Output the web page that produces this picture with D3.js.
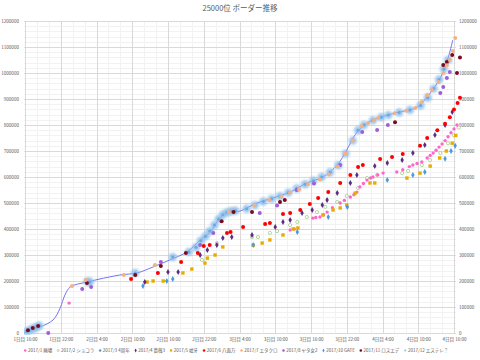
<!DOCTYPE html>
<html><head><meta charset="utf-8">
<script src="https://cdn.jsdelivr.net/npm/d3@7"></script>
<style>body{margin:0;background:#fff}svg{display:block}text{font-family:"Noto Sans CJK JP","Noto Sans",sans-serif}</style>
</head><body><svg id="c" width="480" height="360"></svg>
<script>
const title = "25000位 ボーダー推移";
const xTickHours = [0,6,12,18,24,30,36,42,48,54,60,66,72];
const xTickLabels = ["1日目 16:00","1日目 22:00","2日目 4:00","2日目 10:00","2日目 16:00","2日目 22:00","3日目 4:00","3日目 10:00","3日目 16:00","3日目 22:00","4日目 4:00","4日目 10:00","4日目 16:00"];
const yTicks = [0,100000,200000,300000,400000,500000,600000,700000,800000,900000,1000000,1100000,1200000];
const seriesNames = ["2017/1 廃墟","2017/2 ショコラ","2017/3 4周年","2017/4 薔薇3","2017/5 嘘牙","2017/6 八面万","2017/7 エタクロ","2017/8 ヤタ女2","2017/10 GATE","2017/11 ロスエデ","2017/12 エステレ？"];
const seriesColors = ["#FF66CC","#A9D18E","#5B9BD5","#5B2C83","#E6AC00","#FF0000","#F4B183","#9E5FD8","#4A9BE0","#7A0A1E","#9DC3E6"];

// [hour since 1日目 16:00, points]
const haikyo = [[7.4,115000],[44.5,396000],[45.2,400000],[48.3,442000],[48.8,444000],[49.5,446000],[50.1,455000],[50.7,465000],[51.6,482000],[52.9,500000],[53.6,510000],[54.6,523000],[55.2,532000],[55.7,542000],[56.2,562000],[56.8,575000],[57.4,588000],[58.0,596000],[58.4,600000],[59.2,608000],[60.1,615000],[62.4,619000],[63.4,628000],[64.5,640000],[65.1,646000],[65.8,652000],[66.6,658000],[67.5,673000],[68.0,683000],[68.5,692000],[69.0,703000],[69.5,715000],[70.0,727000],[70.5,740000],[71.0,755000],[71.5,770000],[72.0,785000],[72.5,800000]];
const chocolat = [[29.7,281000],[32.2,346000],[38.1,369000],[39.1,369000],[41.1,385000],[42.3,392000],[44.5,415000],[45.7,427000],[47.3,446000],[49.0,465000],[50.4,485000],[52.4,504000],[54.0,527000],[55.9,558000],[57.4,596000],[59.1,608000],[63.3,615000],[64.3,623000],[66.6,646000],[68.0,665000],[69.7,692000],[71.0,730000],[72.0,760000],[72.8,790000]];
const anniv4 = [[-1.0,0],[0.3,6000],[0.9,12000],[1.4,17000],[1.9,22000],[2.4,28000],[10.5,198000],[10.9,196000],[18.5,231000],[24.8,292000],[27.5,312000],[28.7,330000],[29.5,355000],[30.3,372000],[31.0,392000],[31.8,415000],[32.5,438000],[33.2,455000],[33.9,464000],[34.6,468000],[35.3,470000],[37.2,478000],[38.6,492000],[40.0,506000],[41.4,516000],[42.8,526000],[44.2,540000],[45.6,556000],[47.0,572000],[48.4,586000],[49.8,600000],[51.2,618000],[52.6,645000],[53.8,690000],[55.0,740000],[55.9,780000],[56.9,800000],[58.4,818000],[59.8,830000],[61.0,838000],[62.8,848000],[64.6,858000],[66.4,875000],[67.6,905000],[68.6,940000],[69.5,975000],[70.3,1015000],[71.0,1050000]];
const bara3 = [[20.1,196000],[24.0,235000],[25.7,235000],[29.4,300000],[30.6,319000],[32.2,338000],[33.2,365000],[34.7,369000],[38.1,377000],[42.0,408000],[43.3,427000],[44.5,435000],[46.5,462000],[48.2,473000],[49.9,492000],[50.7,512000],[52.4,538000],[54.6,577000],[55.7,608000],[58.7,642000],[60.8,654000],[63.3,665000],[65.1,692000],[67.1,723000],[68.8,762000],[70.5,800000],[71.7,850000]];
const usoga = [[20.5,196000],[21.5,200000],[23.2,200000],[26.5,231000],[28.0,246000],[30.2,269000],[30.6,288000],[31.9,300000],[33.2,331000],[38.3,338000],[39.8,346000],[41.1,358000],[43.3,377000],[45.0,400000],[45.8,404000],[50.0,454000],[51.7,473000],[52.9,481000],[54.0,492000],[55.4,538000],[57.9,577000],[58.7,577000],[64.1,596000],[66.3,615000],[68.0,642000],[69.6,673000],[70.7,700000],[71.7,730000],[72.3,760000]];
const hachimen = [[17.8,208000],[22.3,231000],[26.2,273000],[29.0,308000],[30.0,335000],[31.0,338000],[33.9,385000],[34.5,388000],[36.6,408000],[40.3,419000],[41.1,423000],[43.3,458000],[44.5,462000],[46.2,473000],[47.8,496000],[49.2,519000],[50.9,542000],[52.9,577000],[54.6,608000],[55.9,638000],[56.7,646000],[59.6,669000],[61.6,677000],[63.4,688000],[66.3,720000],[67.5,750000],[69.2,780000],[70.5,805000],[71.3,830000],[72.0,860000],[72.6,885000],[73.0,905000]];
const etakuro = [[7.9,181000],[10.2,204000],[16.6,223000],[21.8,262000],[34.2,465000],[38.5,492000],[41.0,512000],[43.0,525000],[44.5,540000],[46.0,552000],[47.5,572000],[49.5,590000],[51.0,610000],[52.5,640000],[53.8,690000],[55.0,740000],[56.5,795000],[57.6,808000],[58.6,818000],[59.3,827000],[62.0,845000],[64.0,855000],[65.5,865000],[66.6,888000],[67.5,915000],[68.3,935000],[69.4,965000],[70.2,1000000],[70.8,1030000],[71.3,1050000],[71.8,1085000],[72.2,1135000]];
const yata2 = [[3.9,0],[9.6,169000],[11.1,177000],[22.8,273000],[29.4,338000],[31.6,385000],[39.4,462000],[42.3,490000],[45.6,550000],[48.5,575000],[52.9,646000],[56.6,773000],[59.1,781000],[60.9,800000],[69.7,923000],[70.2,946000],[70.8,981000],[71.3,1004000]];
const gate = [[19.8,181000],[23.8,200000],[24.8,208000],[38.3,338000],[45.7,388000],[50.9,446000],[54.1,485000],[60.8,588000],[65.1,608000],[67.1,619000],[70.5,670000],[71.5,700000],[72.2,720000]];
const losteden = [[0.5,11000],[1.3,19000],[2.2,27000],[10.4,192000],[18.5,223000],[22.8,258000],[27.0,308000],[33.0,430000],[35.0,465000],[38.1,465000],[42.8,504000],[43.6,512000],[62.1,811000],[70.2,1031000],[70.8,1042000],[71.7,1069000],[72.5,1000000],[73.0,1060000]];
const estrella = [[-0.5,0],[2.5,23000],[4.7,50000],[5.9,96000],[6.7,146000],[7.6,177000],[10.4,196000],[15.9,223000],[18.8,231000],[21.5,254000],[24.3,281000],[27.2,312000],[29.4,358000],[31.1,388000],[32.7,442000],[34.1,462000],[36.1,469000],[38.9,500000],[41.6,519000],[44.5,542000],[47.3,577000],[50.0,600000],[52.4,646000],[54.0,704000],[55.4,762000],[57.4,808000],[60.8,838000],[62.9,850000],[65.8,869000],[67.5,908000],[69.7,981000],[70.8,1042000],[71.8,1127000]];

const series = [haikyo,chocolat,anniv4,bara3,usoga,hachimen,etakuro,yata2,gate,losteden,estrella];

const svg = d3.select("#c");
const L=24, R=456, T=21, B=333;
const x = d3.scaleLinear().domain([0,72]).range([25,454]);
const y = d3.scaleLinear().domain([0,1200000]).range([B,T]);

const defs = svg.append("defs");
defs.append("filter").attr("id","glow").attr("x","-1").attr("y","-1").attr("width","3").attr("height","3")
  .append("feGaussianBlur").attr("stdDeviation",1.3);
defs.append("clipPath").attr("id","clip").append("rect").attr("x",L).attr("y",T-6).attr("width",R-L+10).attr("height",B-T+8);

// minor grid
const g = svg.append("g");
g.selectAll(".mh").data(d3.range(0,1200001,20000)).join("line")
  .attr("x1",L).attr("x2",R).attr("y1",d=>Math.round(y(d))+0.5).attr("y2",d=>Math.round(y(d))+0.5)
  .attr("stroke","#F2F2F2").attr("stroke-width",1);
g.selectAll(".mv").data(d3.range(0,73,2)).join("line")
  .attr("y1",T).attr("y2",B).attr("x1",d=>Math.round(x(d))+0.5).attr("x2",d=>Math.round(x(d))+0.5)
  .attr("stroke","#F2F2F2").attr("stroke-width",1);
// major grid
g.selectAll(".Mh").data(yTicks).join("line")
  .attr("x1",L).attr("x2",R).attr("y1",d=>Math.round(y(d))+0.5).attr("y2",d=>Math.round(y(d))+0.5)
  .attr("stroke","#D9D9D9").attr("stroke-width",1);
g.selectAll(".Mv").data(xTickHours).join("line")
  .attr("y1",T).attr("y2",B).attr("x1",d=>Math.round(x(d))+0.5).attr("x2",d=>Math.round(x(d))+0.5)
  .attr("stroke","#D9D9D9").attr("stroke-width",1);

// axes
const yl = d3.axisLeft(y).tickValues(yTicks).tickFormat(d3.format("d")).tickSize(0).tickPadding(3);
const yr = d3.axisRight(y).tickValues(yTicks).tickFormat(d3.format("d")).tickSize(0).tickPadding(3);
const xa = d3.axisBottom(x).tickValues(xTickHours).tickFormat((d,i)=>xTickLabels[i]).tickSize(0).tickPadding(5);
function styleAxis(sel){sel.select(".domain").remove();sel.selectAll("text").attr("fill","#595959").style("font-size","4.6px");}
svg.append("g").attr("transform",`translate(${L-2},0)`).call(yl).call(styleAxis);
svg.append("g").attr("transform",`translate(${R},0)`).call(yr).call(styleAxis);
svg.append("g").attr("transform",`translate(0,${B})`).call(xa).call(styleAxis);

// title
svg.append("text").attr("x",240).attr("y",10.5).attr("text-anchor","middle").attr("fill","#595959").style("font-size","7.5px").text(title);

const plot = svg.append("g").attr("clip-path","url(#clip)");
// line series
plot.append("path").datum(estrella).attr("fill","none").attr("stroke","#7474F2").attr("stroke-width",1)
  .attr("d",d3.line().x(d=>x(d[0])).y(d=>y(d[1])).curve(d3.curveCatmullRom));

function drawMarker(sel, idx, size){
  const c = seriesColors[idx];
  if(idx===1){ // open circle
    sel.append("circle").attr("r",size*0.8).attr("fill","#fff").attr("stroke",c).attr("stroke-width",0.9);
  } else if(idx===4){
    sel.append("rect").attr("x",-size*0.85).attr("y",-size*0.85).attr("width",size*1.7).attr("height",size*1.7).attr("fill",c);
  } else if(idx===2){
    sel.append("circle").attr("r",size).attr("fill",c);
  } else if(idx===10){
    sel.append("path").attr("d",d3.symbol(d3.symbolTriangle,size*size*2.2)()).attr("fill",c);
  } else if(idx===8 || idx===3){
    sel.append("path").attr("d",d3.symbol(d3.symbolDiamond,size*size*2.6)()).attr("fill",c);
  } else {
    sel.append("circle").attr("r",size).attr("fill",c);
  }
}

const order = [2,1,0,4,8,3,5,7,9,6];
order.forEach(i=>{
  const grp = plot.append("g");
  series[i].forEach(p=>{
    const m = grp.append("g").attr("transform",`translate(${x(p[0])},${y(p[1])})`);
    if(i===2){
      m.append("circle").attr("r",4.2).attr("fill","#8CBFEC").attr("opacity",0.8).attr("filter","url(#glow)");
      m.append("circle").attr("r",1.5).attr("fill","#6FA8DC");
    } else drawMarker(m,i,i===0?1.7:2);
  });
});

// legend
const leg = svg.append("g");
const ly = 350.5;
let cx = 0;
seriesNames.forEach((n,i)=>{
  const it = leg.append("g");
  const m = it.append("g").attr("transform",`translate(${cx+1.5},${ly})`);
  drawMarker(m,i,1.3);
  const t = it.append("text").attr("x",cx+4.2).attr("y",ly+1.6).attr("fill","#595959").style("font-size","4.5px").text(n);
  const w = t.node().getComputedTextLength();
  cx += 4.2 + w + 4.5;
});
const total = cx - 4.5;
leg.attr("transform",`translate(${236-total/2},0)`);
</script></body></html>
